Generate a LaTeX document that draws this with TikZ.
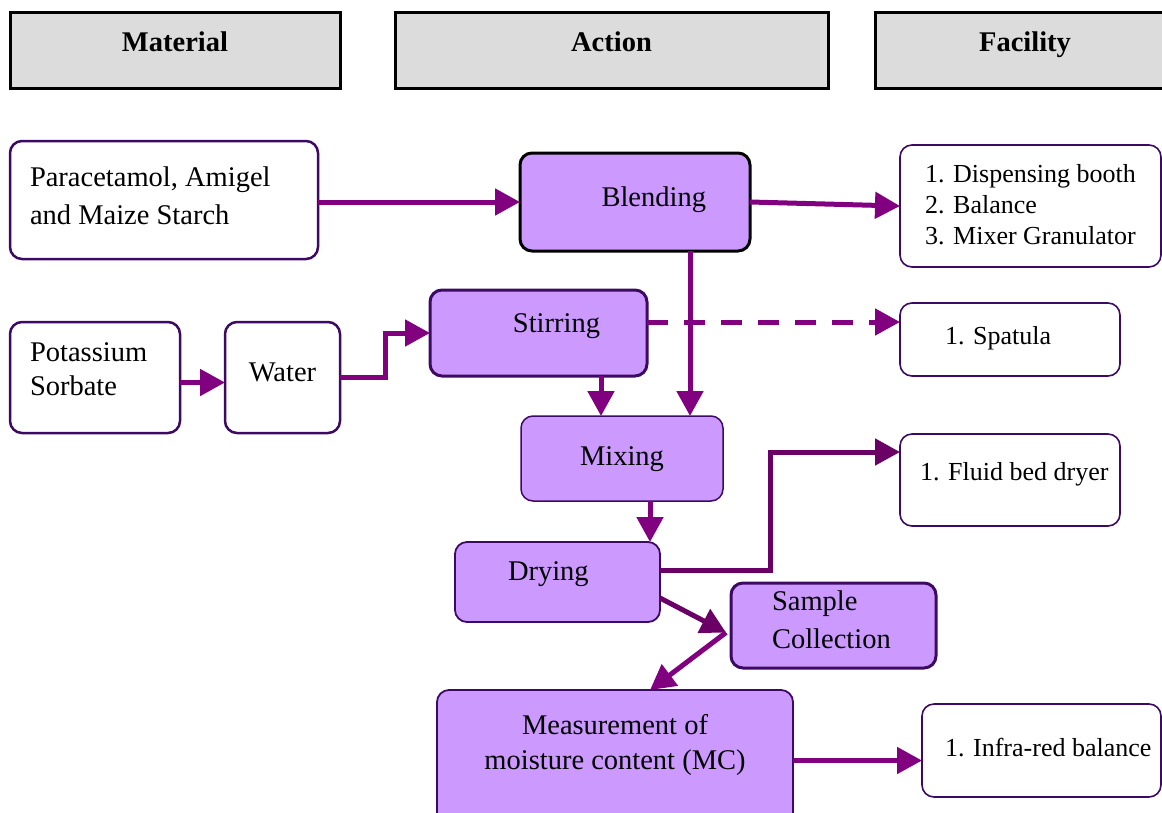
\documentclass[tikz,border=0pt]{standalone}
\usepackage{fontspec}
\setmainfont{Liberation Serif}
\usetikzlibrary{arrows.meta,calc}
\definecolor{arr}{HTML}{800080}
\definecolor{arrdark}{HTML}{6A0066}
\definecolor{lav}{HTML}{CC99FF}
\definecolor{dpur}{HTML}{3D0A63}
\definecolor{hdr}{HTML}{DCDCDC}
% width, align, column, raise, lines
\newcommand\Tbox[5]{\raisebox{#4pt}[0pt][0pt]{\makebox[#1pt][#2]{\begin{tabular}{@{}#3@{}}#5\end{tabular}}}}
\begin{document}
\begin{tikzpicture}[x=1pt,y=-1pt,
  base/.style={anchor=north west,inner sep=0pt,outer sep=0pt},
  hdrbox/.style={base,draw=black,fill=hdr,line width=3pt,minimum height=76pt,font=\fontsize{28.5}{34}\selectfont\bfseries},
  matbox/.style={base,draw=dpur,fill=white,rounded corners=12pt,line width=2.5pt,font=\fontsize{28.5}{38}\selectfont},
  facbox/.style={base,draw=dpur,fill=white,rounded corners=12pt,line width=1.6pt,font=\fontsize{26}{31}\selectfont},
  actbox/.style={base,draw=dpur,fill=lav,rounded corners=12pt,line width=1.8pt,font=\fontsize{28.5}{38}\selectfont},
  flow/.style={draw=arr,line width=5pt,-{Triangle[length=25pt,width=26pt]}},
]
\useasboundingbox (0,0) rectangle (1162,812);

% headers
\node[hdrbox,minimum width=330pt] (hmat) at (10,12) {\Tbox{300}{c}{c}{-1}{Material}};
\node[hdrbox,minimum width=433pt] (hact) at (395,12) {\Tbox{300}{c}{c}{-1}{Action}};
\node[hdrbox,minimum width=300pt] (hfac) at (875,12) {\Tbox{260}{c}{c}{-1}{Facility}};

% material column
\node[matbox,minimum width=308pt,minimum height=118pt] (para) at (10,141)
  {\Tbox{268}{l}{l}{-4}{Paracetamol, Amigel\\and Maize Starch}};
\node[matbox,minimum width=170pt,minimum height=111pt] (pot) at (10,322)
  {\fontsize{28.5}{34}\selectfont\Tbox{130}{l}{l}{-0.5}{Potassium\\Sorbate}};
\node[matbox,minimum width=115pt,minimum height=111pt] (water) at (225,322)
  {\Tbox{100}{c}{c}{-2.5}{Water}};

% action column
\node[actbox,draw=black,line width=3pt,minimum width=230pt,minimum height=98pt] (blend) at (520,153)
  {\Tbox{142}{r}{l}{-3}{Blending}};
\node[actbox,line width=3pt,minimum width=217pt,minimum height=86pt] (stir) at (430,290)
  {\Tbox{123}{r}{l}{2}{Stirring}};
\node[actbox,line width=1.5pt,minimum width=202pt,minimum height=85pt] (mix) at (521,416)
  {\Tbox{150}{c}{c}{-5.5}{Mixing}};
\node[actbox,minimum width=205pt,minimum height=80pt] (dry) at (455,542)
  {\Tbox{99}{l}{l}{3}{Drying}};
\node[actbox,line width=3pt,minimum width=205pt,minimum height=85pt] (samp) at (731,583)
  {\Tbox{123}{l}{l}{-2.5}{Sample\\Collection}};
\node[actbox,minimum width=356pt,minimum height=145pt] (meas) at (437,690)
  {\fontsize{28.5}{35}\selectfont\Tbox{330}{c}{c}{11}{Measurement of\\moisture content (MC)}};

% facility column
\node[facbox,minimum width=261pt,minimum height=122pt] (f1) at (900,145)
  {\Tbox{211}{l}{l}{-8}{1. Dispensing booth\\2. Balance\\3. Mixer Granulator}};
\node[facbox,minimum width=220pt,minimum height=73pt] (spat) at (900,303)
  {\Tbox{130}{l}{l}{-5.5}{1. Spatula}};
\node[facbox,minimum width=220pt,minimum height=92pt] (fluid) at (900,434)
  {\Tbox{180}{l}{l}{-1}{1. Fluid bed dryer}};
\node[facbox,minimum width=239pt,minimum height=93pt] (infra) at (922,704)
  {\Tbox{193}{l}{l}{-6.5}{1. Infra-red balance}};

% connectors
\draw[flow] (blend.west -| para.east) -- (blend.west);
\draw[flow] (blend.east) -- (f1.west);
\draw[flow] (blend.south -| 690,0) -- (mix.north -| 690,0);
\draw[flow] ([yshift=-5pt]pot.east) -- ([yshift=-5pt]pot.east -| water.west);
\draw[flow] (water.east) -- ++(45,0) |- (stir.west);
\draw[flow,dash pattern=on 21pt off 16pt] ([yshift=11pt]stir.east) -- ([yshift=11pt]stir.east -| spat.west);
\draw[flow] (stir.south -| 601,0) -- (mix.north -| 601,0);
\draw[flow] (mix.south -| 650,0) -- (dry.north -| 650,0);
\draw[flow,draw=arrdark] ([yshift=12pt]dry.east) -- ++(110,0) |- ([yshift=28pt]fluid.west);
\coordinate (sc) at ([xshift=-5pt,yshift=-7pt]samp.west);
\draw[flow,draw=arrdark] ([yshift=-16pt]dry.east) -- (sc);
\draw[flow] (sc) -- (meas.north -| 650,0);
\draw[flow] ([yshift=2pt]meas.east) -- ([yshift=2pt]meas.east -| infra.west);
\end{tikzpicture}
\end{document}
